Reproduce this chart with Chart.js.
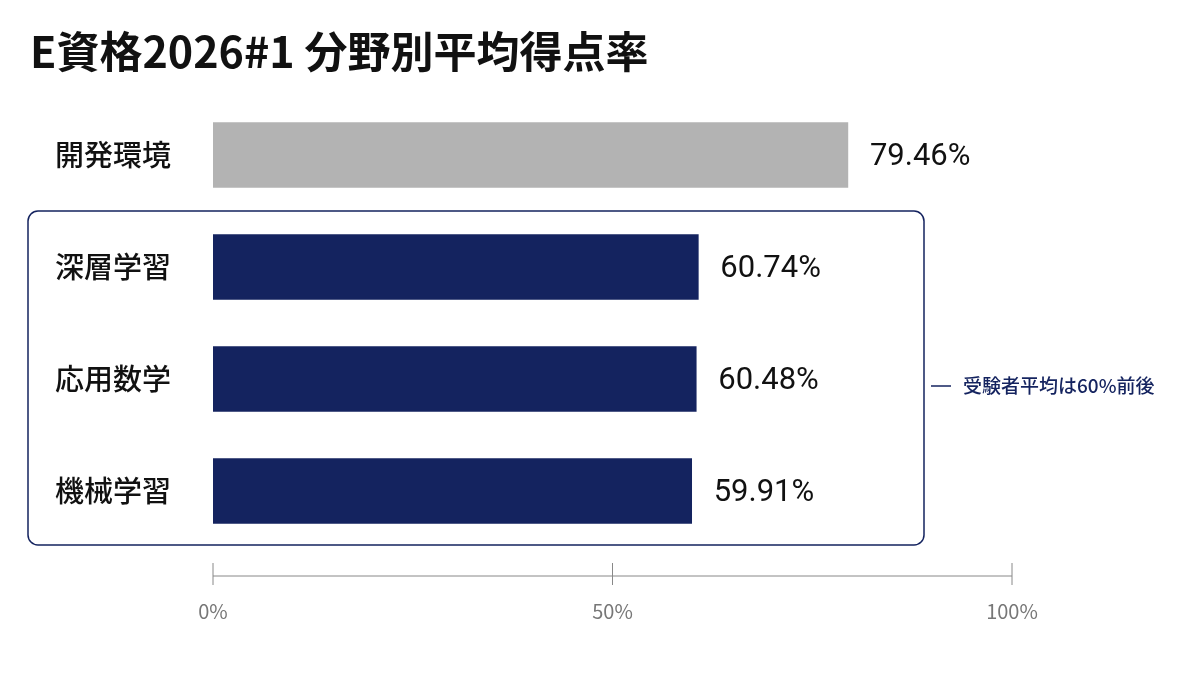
<!DOCTYPE html>
<html><head><meta charset="utf-8">
<script src="https://cdn.jsdelivr.net/npm/chart.js@4"></script>
<style>html,body{margin:0;background:#fff}canvas{display:block}</style>
</head><body><div style="width:1200px;height:675px"><canvas id="c"></canvas></div>
<script>
const titleText = 'E資格2026#1 分野別平均得点率';
const categories = ['開発環境','深層学習','応用数学','機械学習'];
const values = [79.46, 60.74, 60.48, 59.91];
const barColors = ['#b3b3b3','#14235f','#14235f','#14235f'];
const xTicks = [0, 50, 100];
const noteText = '受験者平均は60%前後';
const FONT = '"Noto Sans CJK JP", "Noto Sans", sans-serif';
const NAVY = '#14235f';

const deco = {
  id: 'deco',
  afterDatasetsDraw(chart) {
    const ctx = chart.ctx, x = chart.scales.x, y = chart.scales.y;
    ctx.save();
    ctx.fillStyle = '#111';
    ctx.font = 'bold 43px ' + FONT;
    ctx.textBaseline = 'middle'; ctx.textAlign = 'left';
    ctx.fillText(titleText, 30, 52);
    ctx.font = '500 29px ' + FONT;
    categories.forEach((c, i) => {
      ctx.fillStyle = '#111';
      ctx.fillText(c, 55, y.getPixelForValue(i));
    });
    ctx.font = '31px Roboto, ' + FONT;
    values.forEach((v, i) => {
      ctx.fillText(v.toFixed(2) + '%', x.getPixelForValue(v) + 22, y.getPixelForValue(i) + 2);
    });
    const top = (y.getPixelForValue(0) + y.getPixelForValue(1)) / 2;
    const bot = y.getPixelForValue(3) + 54;
    ctx.strokeStyle = NAVY; ctx.lineWidth = 1.5;
    ctx.beginPath(); ctx.roundRect(28, top, 896, bot - top, 10); ctx.stroke();
    const my = y.getPixelForValue(2) + 7;
    ctx.beginPath(); ctx.moveTo(931, my); ctx.lineTo(951, my); ctx.stroke();
    ctx.fillStyle = NAVY; ctx.font = '500 19px ' + FONT;
    ctx.fillText(noteText, 963, my);
    const ay = 576;
    ctx.strokeStyle = '#888'; ctx.lineWidth = 1;
    ctx.beginPath(); ctx.moveTo(x.getPixelForValue(0), ay); ctx.lineTo(x.getPixelForValue(100), ay); ctx.stroke();
    ctx.fillStyle = '#777'; ctx.font = '20px ' + FONT; ctx.textAlign = 'center';
    xTicks.forEach(t => {
      const px = x.getPixelForValue(t);
      ctx.beginPath(); ctx.moveTo(px, ay - 13); ctx.lineTo(px, ay + 9); ctx.stroke();
      ctx.fillText(t + '%', px, 611);
    });
    ctx.restore();
  }
};

new Chart(document.getElementById('c'), {
  type: 'bar',
  data: { labels: categories, datasets: [{ data: values, backgroundColor: barColors, barThickness: 65 }] },
  options: {
    indexAxis: 'y', responsive: true, maintainAspectRatio: false, animation: false,
    layout: { padding: { left: 213, right: 188, top: 99, bottom: 128 } },
    plugins: { legend: { display: false }, tooltip: { enabled: false } },
    scales: {
      x: { display: false, min: 0, max: 100 },
      y: { display: false }
    }
  },
  plugins: [deco]
});
</script></body></html>
